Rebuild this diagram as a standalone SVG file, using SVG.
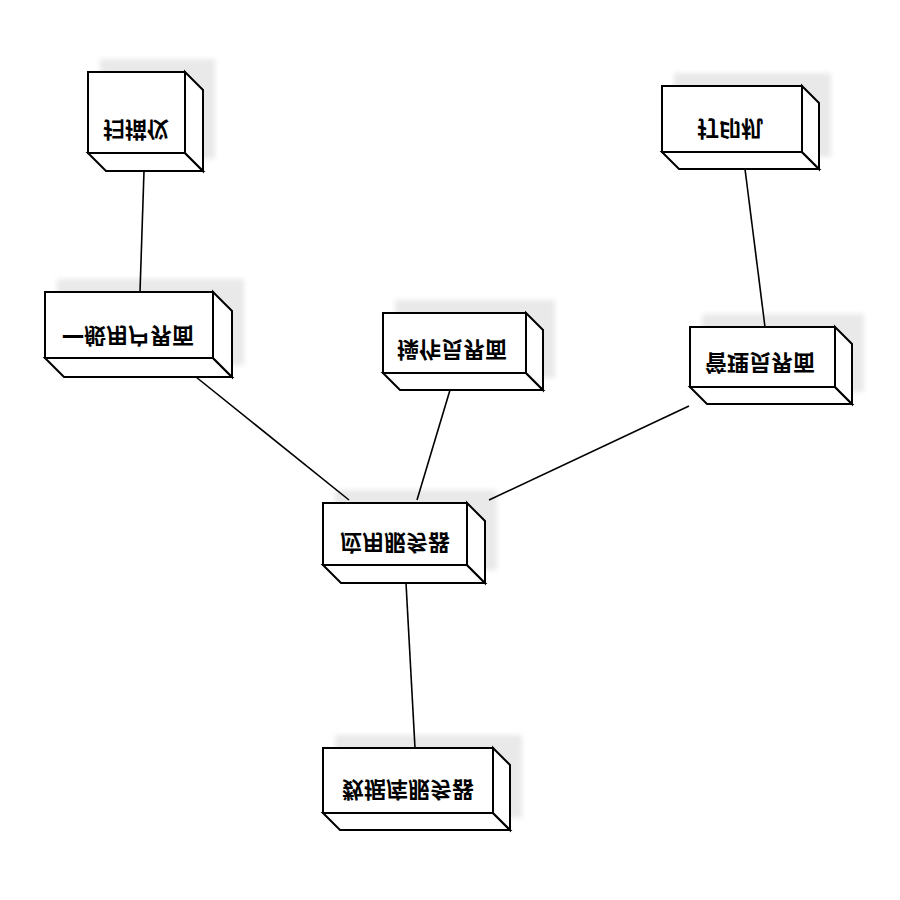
<svg xmlns="http://www.w3.org/2000/svg" width="900" height="900" viewBox="0 0 900 900">
  <style>
    .face { fill: #ffffff; stroke: #000000; stroke-width: 2; stroke-linejoin: miter; }
    .shadow { fill: #e9e9e9; filter: url(#soft); }
    .label { font-family: "Noto Sans CJK SC", "Noto Sans", sans-serif; font-size: 22px; font-weight: 700; fill: #000000; text-anchor: middle; dominant-baseline: central; }
    .link { stroke: #000000; stroke-width: 1.6; fill: none; }
  </style>
  <defs>
    <filter id="soft" x="-20%" y="-20%" width="140%" height="140%">
      <feGaussianBlur stdDeviation="2.5"/>
    </filter>
  </defs>
  <rect width="900" height="900" fill="#ffffff"/>

  <!-- drop shadows behind the node boxes -->
  <g id="shadows">
    <rect class="shadow" x="100" y="59" width="115" height="100"/>
    <rect class="shadow" x="57" y="279" width="187" height="86"/>
    <rect class="shadow" x="395" y="300" width="160" height="78"/>
    <rect class="shadow" x="674" y="73" width="157" height="84"/>
    <rect class="shadow" x="702" y="314" width="162" height="78"/>
    <rect class="shadow" x="335" y="490" width="162" height="80"/>
    <rect class="shadow" x="335" y="735" width="187" height="83"/>
  </g>

  <!-- connectors between nodes -->
  <g id="connectors">
    <line class="link" x1="144" y1="171" x2="140" y2="292"/>
    <line class="link" x1="196" y1="377" x2="349" y2="500"/>
    <line class="link" x1="450" y1="390" x2="417" y2="500"/>
    <line class="link" x1="689" y1="406" x2="489" y2="500"/>
    <line class="link" x1="745" y1="169" x2="765" y2="327"/>
    <line class="link" x1="406" y1="583" x2="415" y2="748"/>
  </g>

  <!-- 扫描仪 -->
  <g id="node-scanner">
    <polygon class="face" points="88,153 106,171 203,171 185,153"/>
    <polygon class="face" points="185,72 203,90 203,171 185,153"/>
    <rect class="face" x="88" y="72" width="97" height="81"/>
    <text class="label" transform="translate(136,132) scale(1,-1)">扫描仪</text>
  </g>

  <!-- 一般用户界面 -->
  <g id="node-general-ui">
    <polygon class="face" points="45,358 64,377 232,377 213,358"/>
    <polygon class="face" points="213,292 232,311 232,377 213,358"/>
    <rect class="face" x="45" y="292" width="168" height="66"/>
    <text class="label" transform="translate(128,338) scale(1,-1)">一般用户界面</text>
  </g>

  <!-- 操作员界面 -->
  <g id="node-operator-ui">
    <polygon class="face" points="383,373 400,390 543,390 526,373"/>
    <polygon class="face" points="526,313 543,330 543,390 526,373"/>
    <rect class="face" x="383" y="313" width="143" height="60"/>
    <text class="label" transform="translate(452,352) scale(1,-1)">操作员界面</text>
  </g>

  <!-- 打印机 -->
  <g id="node-printer">
    <polygon class="face" points="662,152 679,169 819,169 802,152"/>
    <polygon class="face" points="802,86 819,103 819,169 802,152"/>
    <rect class="face" x="662" y="86" width="140" height="66"/>
    <text class="label" transform="translate(730,131) scale(1,-1)">打印机</text>
  </g>

  <!-- 管理员界面 -->
  <g id="node-admin-ui">
    <polygon class="face" points="690,387 707,404 852,404 835,387"/>
    <polygon class="face" points="835,327 852,344 852,404 835,387"/>
    <rect class="face" x="690" y="327" width="145" height="60"/>
    <text class="label" transform="translate(760,365) scale(1,-1)">管理员界面</text>
  </g>

  <!-- 应用服务器 -->
  <g id="node-app-server">
    <polygon class="face" points="323,565 341,583 485,583 467,565"/>
    <polygon class="face" points="467,503 485,521 485,583 467,565"/>
    <rect class="face" x="323" y="503" width="144" height="62"/>
    <text class="label" transform="translate(395,545) scale(1,-1)">应用服务器</text>
  </g>

  <!-- 数据库服务器 -->
  <g id="node-db-server">
    <polygon class="face" points="323,813 340,830 510,830 493,813"/>
    <polygon class="face" points="493,748 510,765 510,830 493,813"/>
    <rect class="face" x="323" y="748" width="170" height="65"/>
    <text class="label" transform="translate(408,792) scale(1,-1)">数据库服务器</text>
  </g>
</svg>
